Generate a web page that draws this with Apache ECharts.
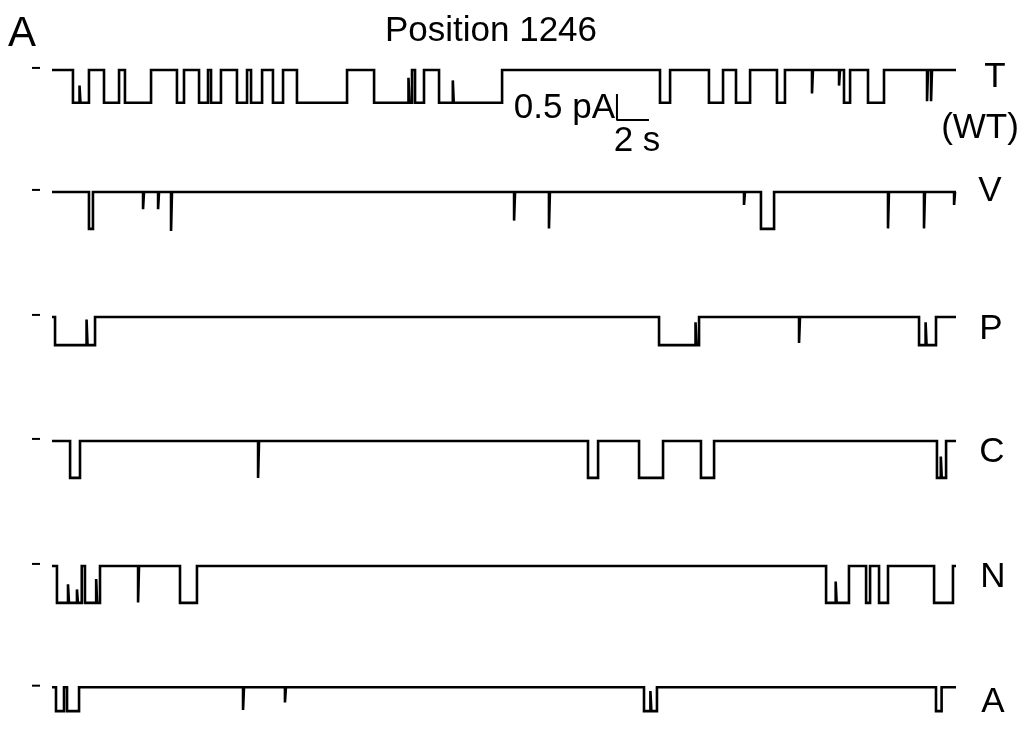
<!DOCTYPE html>
<html><head><meta charset="utf-8">
<script src="https://cdn.jsdelivr.net/npm/echarts@6/dist/echarts.min.js"></script>
<style>html,body{margin:0;padding:0;background:#fff}#c{width:1023px;height:729px}</style>
</head><body><div id="c"></div>
<script>
// ---- data (time in s, current in pA relative to the open level) ----
const traceLabels = ['T', 'V', 'P', 'C', 'N', 'A'];
const duration = 56.5;              // s, length of each record
const amplitudes = [0.63, 0.71, 0.54, 0.71, 0.71, 0.63]; // pA, full closure
// events: [start, end, level]; level omitted = full closure
const eventsT = [
  [1.31,1.72],[1.72,1.78,-0.3],[1.78,2.31],[3.25,4.19],[4.56,6.19],[7.81,8.25],
  [9.19,9.75],[9.94,10.56],[11.56,12.19],[12.44,13.13],[13.81,14.44],[15.31,18.44],
  [20.13,22.28],[22.28,22.34,-0.15],[22.34,22.5],[22.69,23.25],
  [24.19,25.05],[25.05,25.11,-0.2],[25.11,28.13],
  [38.0,38.63],[41.06,41.94],[42.75,43.63],[45.31,45.81],[47.5,47.56,-0.45],
  [49.19,49.25,-0.3],[49.5,49.88],[51.0,52.0],[54.69,54.75,-0.6],[54.94,55.0,-0.6]
];
const eventsV = [
  [2.31,2.56],[5.69,5.75,-0.33],[6.63,6.69,-0.33],[7.44,7.5,-0.75],
  [28.88,28.94,-0.55],[31.06,31.12,-0.7],[43.25,43.31,-0.25],[44.31,45.13],
  [52.25,52.31,-0.7],[54.5,54.56,-0.7],[56.38,56.44,-0.25]
];
const eventsP = [
  [0.19,2.16],[2.16,2.22,-0.05],[2.22,2.69],
  [37.94,40.22],[40.22,40.28,-0.1],[40.28,40.44],
  [46.69,46.75,-0.5],
  [54.19,54.6],[54.6,54.66,-0.1],[54.66,55.25]
];
const eventsC = [
  [1.13,1.75],[12.88,12.94,-0.71],[33.5,34.13],[36.69,38.19],[40.56,41.38],
  [55.31,55.55],[55.55,55.61,-0.3],[55.61,55.88]
];
const eventsN = [
  [0.31,1.0],[1.0,1.06,-0.35],[1.06,1.56],[1.56,1.62,-0.45],[1.62,1.86],
  [2.06,2.76],[2.76,2.82,-0.25],[2.82,3.0],
  [5.38,5.44,-0.7],[8.0,9.06],
  [48.38,48.98],[48.98,49.04,-0.3],[49.04,49.81],
  [50.88,51.13],[51.69,52.25],[55.13,56.31]
];
const eventsA = [
  [0.25,0.75],[0.94,1.69],[11.94,12.0,-0.6],[14.56,14.62,-0.4],
  [37.0,37.4],[37.4,37.46,-0.1],[37.46,37.81],[55.25,55.6]
];
const allEvents = [eventsT, eventsV, eventsP, eventsC, eventsN, eventsA];
// scale bar: 0.5 pA vertical, 2 s horizontal (drawn on the T record)
const scaleBar = { t: 35.31, y: -0.46, pA: 0.5, s: 2 };
const openMarker = [-1.25, -0.75]; // s, short dash marking the open level

// ---- layout ----
const baselinesPx = [70, 192, 317, 441, 566, 690];
const pxPerPA = 52, pxPerS = 16, xMin = -1.5, yMin = -1.1, yMax = 0.2;
const gridLeft = 52 + xMin * pxPerS;

function build(events, amp) {
  const pts = [[0, 0]];
  let prevEnd = 0, prevLevel = 0;
  events.forEach(ev => {
    const s = ev[0], e = ev[1];
    const lv = ev.length > 2 ? ev[2] : -amp;
    if (s > prevEnd + 1e-9) {
      if (prevLevel !== 0) pts.push([prevEnd, 0]);
      pts.push([s, 0]);
    }
    pts.push([s, lv]); pts.push([e, lv]);
    prevEnd = e; prevLevel = lv;
  });
  if (prevLevel !== 0) pts.push([prevEnd, 0]);
  pts.push([duration, 0]);
  return pts;
}

const grids = [], xAxes = [], yAxes = [], series = [];
traceLabels.forEach((lab, i) => {
  grids.push({ left: gridLeft, top: baselinesPx[i] - yMax * pxPerPA,
    width: (duration - xMin) * pxPerS, height: (yMax - yMin) * pxPerPA });
  xAxes.push({ type: 'value', gridIndex: i, min: xMin, max: duration, show: false });
  yAxes.push({ type: 'value', gridIndex: i, min: yMin, max: yMax, show: false });
  const d = build(allEvents[i], amplitudes[i]);
  series.push({ type: 'line', xAxisIndex: i, yAxisIndex: i, data: d, showSymbol: false,
    clip: false, silent: true, lineStyle: { color: '#000', width: 2.6, join: 'miter' } });
  series.push({ type: 'line', xAxisIndex: i, yAxisIndex: i, showSymbol: false, clip: false,
    data: [[openMarker[0], 0.04], [openMarker[1], 0.04]], lineStyle: { color: '#000', width: 2 } });
});
series.push({ type: 'line', xAxisIndex: 0, yAxisIndex: 0, showSymbol: false, clip: false,
  data: [[scaleBar.t, scaleBar.y], [scaleBar.t, scaleBar.y - scaleBar.pA],
         [scaleBar.t + scaleBar.s, scaleBar.y - scaleBar.pA]],
  lineStyle: { color: '#000', width: 2 } });

const F = '"Liberation Sans", Arial, sans-serif';
function txt(t, x, y, size, align) {
  return { type: 'text', x: x, y: y, silent: true,
    style: { text: t, fill: '#000', font: size + 'px ' + F,
      align: align || 'center', verticalAlign: 'middle',
      textAlign: align || 'center', textVerticalAlign: 'middle' } };
}
const labelPos = [[995, 77], [990, 191], [991, 329], [992, 452], [993, 577], [993, 702]];
const graphics = [
  txt('A', 8, 34, 42, 'left'),
  txt('Position 1246', 491, 31, 35),
  txt('0.5 pA', 615, 108, 35, 'right'),
  txt('2 s', 637, 141, 35),
  txt('(WT)', 980, 128, 35)
];
traceLabels.forEach((lab, i) => graphics.push(txt(lab, labelPos[i][0], labelPos[i][1], 35)));

const chart = echarts.init(document.getElementById('c'), null, { renderer: 'canvas' });
chart.setOption({ animation: false, backgroundColor: '#fff', grid: grids,
  xAxis: xAxes, yAxis: yAxes, series: series, graphic: graphics });
</script></body></html>
